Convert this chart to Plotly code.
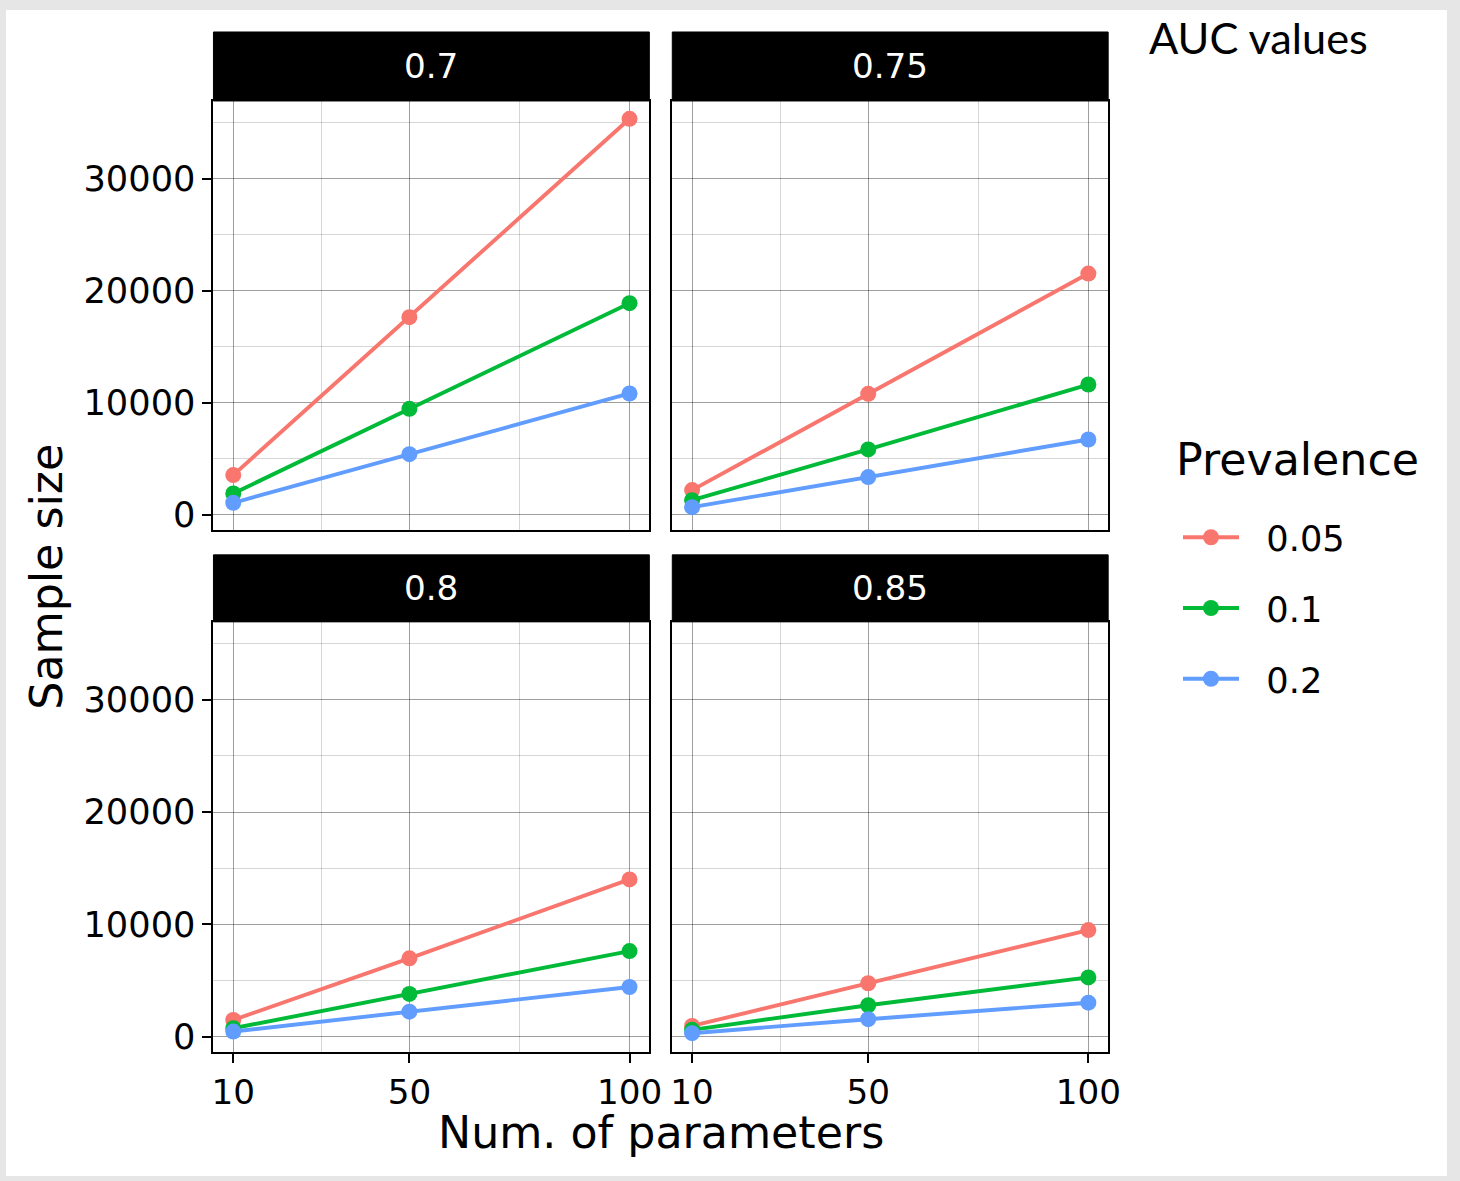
import plotly.graph_objects as go

# ---------------- data ----------------
auc_values = ["0.7", "0.75", "0.8", "0.85"]
num_params = [10, 50, 100]
prevalences = ["0.05", "0.1", "0.2"]
colors = ["#F8766D", "#00BA38", "#619CFF"]

# sample sizes per AUC panel, per prevalence, at 10 / 50 / 100 parameters
n_auc_070 = {"0.05": [3540, 17640, 35360], "0.1": [1900, 9460, 18890], "0.2": [1070, 5410, 10830]}
n_auc_075 = {"0.05": [2200, 10800, 21540], "0.1": [1300, 5830, 11630], "0.2": [680, 3360, 6720]}
n_auc_080 = {"0.05": [1480, 6970, 14000], "0.1": [740, 3800, 7620], "0.2": [450, 2220, 4420]}
n_auc_085 = {"0.05": [950, 4750, 9490], "0.1": [600, 2790, 5270], "0.2": [300, 1550, 3020]}
panels_data = [n_auc_070, n_auc_075, n_auc_080, n_auc_085]

y_ticks = [0, 10000, 20000, 30000]
y_minor = [5000, 15000, 25000, 35000]
x_minor = [30, 75]

# ---------------- layout geometry (reference pixels) ----------------
W, H = 1460, 1181
# the captured page shows up slightly reduced; compensate so marks land on the reference pixels
SX, SY = 1.0078, 1.0040
FS = (SX + SY) / 2
col_x = [(212, 649), (672, 1109)]
row_y = [(101, 530), (622, 1052)]
strip_y = [(32, 101), (555, 622)]

def px(x):
    return min(1.0, x * SX / W)

def py(y):
    return max(0.0, 1 - y * SY / H)

def fs(s):
    return round(s * FS, 1)

FONT = "DejaVu Sans"
FRAME = "#e6e6e6"
major_grid = "rgba(0,0,0,0.38)"
minor_grid = "rgba(0,0,0,0.16)"

fig = go.Figure()
layout = dict(
    autosize=True,
    margin=dict(l=0, r=0, t=0, b=0, pad=0),
    paper_bgcolor=FRAME,
    plot_bgcolor="white",
    font=dict(family=FONT, color="black"),
    showlegend=True,
)

shapes = [dict(type="rect", xref="paper", yref="paper", x0=px(4), x1=1.0,
               y0=py(1179), y1=py(10), fillcolor="white", line=dict(width=0), layer="below")]
annotations = []

for i, data in enumerate(panels_data):
    r, c = divmod(i, 2)
    n = i + 1
    xa = "xaxis" if n == 1 else f"xaxis{n}"
    ya = "yaxis" if n == 1 else f"yaxis{n}"
    xref = "x" if n == 1 else f"x{n}"
    yref = "y" if n == 1 else f"y{n}"
    for j, prev in enumerate(prevalences):
        fig.add_trace(go.Scatter(
            x=num_params, y=data[prev], mode="lines+markers",
            name="\u00a0\u00a0" + prev, legendgroup=prev, showlegend=(i == 0),
            line=dict(color=colors[j], width=3.9),
            marker=dict(color=colors[j], size=16),
            xaxis=xref, yaxis=yref,
        ))
    x0, x1 = col_x[c]
    y0, y1 = row_y[r]
    layout[xa] = dict(
        domain=[px(x0), px(x1)], anchor=yref, range=[5.5, 104.5],
        tickvals=num_params, ticktext=[str(v) for v in num_params],
        showticklabels=(r == 1), ticks="outside" if r == 1 else "",
        ticklen=9, tickwidth=2, tickcolor="black",
        tickfont=dict(size=fs(34), family=FONT, color="black"),
        showgrid=True, gridcolor=major_grid, gridwidth=1,
        minor=dict(tickvals=x_minor, showgrid=True, gridcolor=minor_grid, gridwidth=1, ticks=""),
        showline=True, linecolor="black", linewidth=2, mirror=True, zeroline=False,
    )
    layout[ya] = dict(
        domain=[py(y1), py(y0)], anchor=xref, range=[-1350, 36950],
        tickvals=y_ticks, ticktext=[str(v) for v in y_ticks],
        showticklabels=(c == 0), ticks="outside" if c == 0 else "",
        ticklen=9, tickwidth=2, tickcolor="black",
        tickfont=dict(size=fs(35), family=FONT, color="black"),
        showgrid=True, gridcolor=major_grid, gridwidth=1,
        minor=dict(tickvals=y_minor, showgrid=True, gridcolor=minor_grid, gridwidth=1, ticks=""),
        showline=True, linecolor="black", linewidth=2, mirror=True, zeroline=False,
    )
    sy0, sy1 = strip_y[r]
    shapes.append(dict(type="rect", xref="paper", yref="paper",
                       x0=px(x0), x1=px(x1), y0=py(sy1), y1=py(sy0),
                       fillcolor="black", line=dict(color="black", width=1)))
    annotations.append(dict(text=auc_values[i], xref="paper", yref="paper",
                            x=px((x0 + x1) / 2), y=py((sy0 + sy1) / 2),
                            xanchor="center", yanchor="middle", showarrow=False,
                            font=dict(size=fs(34), color="white", family=FONT)))

annotations.append(dict(text="Sample size", xref="paper", yref="paper",
                        x=px(45), y=py(577), textangle=-90, showarrow=False,
                        xanchor="center", yanchor="middle",
                        font=dict(size=fs(44), family=FONT, color="black")))
annotations.append(dict(text="Num. of parameters", xref="paper", yref="paper",
                        x=px(661), y=py(1133), showarrow=False,
                        xanchor="center", yanchor="middle",
                        font=dict(size=fs(44), family=FONT, color="black")))
annotations.append(dict(text="AUC values", xref="paper", yref="paper",
                        x=px(1148), y=py(37), showarrow=False,
                        xanchor="left", yanchor="middle",
                        font=dict(size=fs(43), family="Lato", color="black")))
annotations.append(dict(text="Prevalence", xref="paper", yref="paper",
                        x=px(1175), y=py(460), showarrow=False,
                        xanchor="left", yanchor="middle",
                        font=dict(size=fs(44), family=FONT, color="black")))

layout["shapes"] = shapes
layout["annotations"] = annotations
layout["legend"] = dict(
    x=px(1179), y=py(508), xanchor="left", yanchor="top",
    font=dict(size=fs(35), family=FONT, color="black"),
    bgcolor="rgba(0,0,0,0)", tracegroupgap=22, itemwidth=56,
)
fig.update_layout(**layout)

# the graph div is pinned to the viewport so the figure fills the window exactly
fig.write_html(
    "out.html",
    config={"displayModeBar": False, "responsive": True},
    default_width="100vw",
    default_height="100vh; position:fixed; left:0; top:0; margin:0",
)
